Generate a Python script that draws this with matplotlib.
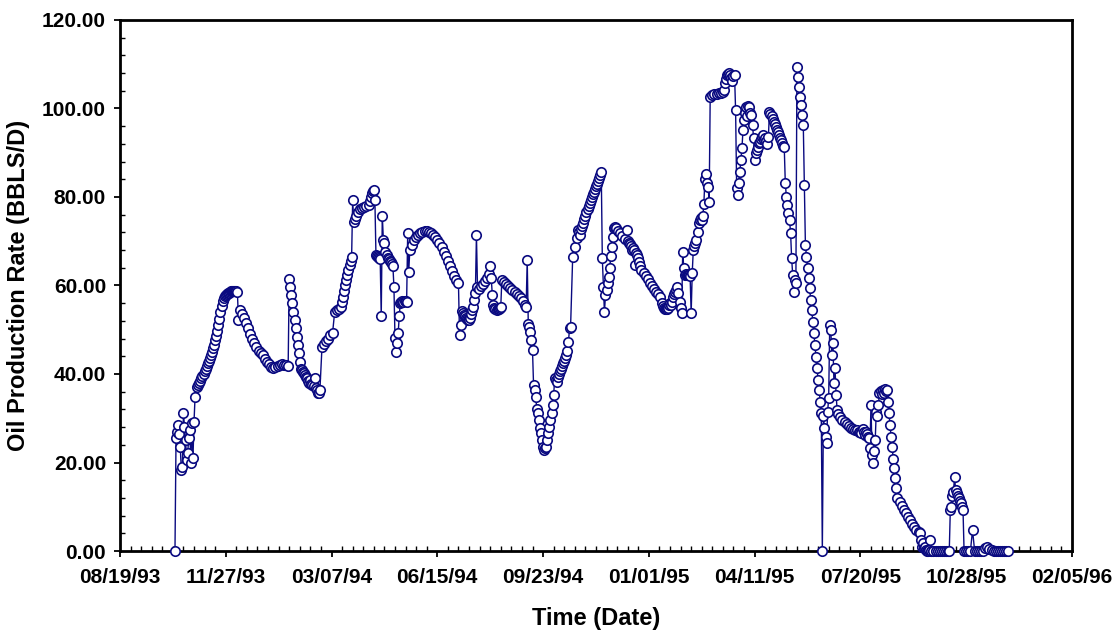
import numpy as np
import pandas as pd
import matplotlib
matplotlib.use('Agg')
import matplotlib.pyplot as plt
import matplotlib.dates as mdates
from matplotlib.ticker import MultipleLocator, FormatStrFormatter, FixedLocator

# day 0 of the time axis
start_date = pd.Timestamp('1993-08-19')

# oil rate readings (BBLS/D), in blocks: (first day after 08/19/93, spacing in days, values)
oct93 = [0.0, 25.5, 27.0, 28.5, 26.5, 23.5, 18.3, 19.0, 31.2, 28.0, 25.0, 20.6, 22.1,
         25.5, 27.3, 20.0, 28.9, 21.0, 29.2, 34.9]
nov93 = [37.1, 37.5, 38.0, 38.5, 39.0, 39.5, 40.1, 40.6, 41.2, 41.8, 42.4, 43.0, 43.6,
         44.3, 45.0, 45.8, 46.6, 47.6, 48.6, 49.8, 51.0, 52.5, 54.0, 55.4, 56.6, 57.2,
         57.6, 57.9, 58.1, 58.3, 58.4, 58.6, 58.7, 58.8, 58.8, 58.8, 58.8, 58.7, 58.6]
dec93a = [52.2, 54.5]
dec93b = [53.6, 52.6, 51.5, 50.3, 49.0, 48.0, 47.0, 46.1, 45.3, 44.8, 44.3, 43.3, 42.7,
          42.2, 41.6, 41.3, 41.5, 41.8, 42.0, 42.2, 42.1, 42.0, 41.8]
jan94 = [61.4, 59.7, 57.9, 56.0, 54.1, 52.2, 50.3, 48.4, 46.6, 44.7, 42.8, 41.2, 40.9,
         40.5, 40.2, 39.8, 39.4, 39.0, 38.5, 38.0, 38.6, 37.8, 37.5, 37.2, 39.0, 36.8,
         36.4, 35.8, 35.6, 36.3]
feb94 = [46.2, 46.8, 47.4, 48.0, 48.7, 49.3, 54.1, 54.4, 54.8, 55.2]
mar94 = [56.3, 57.5, 58.8, 60.0, 61.2, 62.4, 63.5, 64.6, 65.6, 66.5, 79.3, 74.4, 75.0, 75.6]
apr94a = [76.7, 77.3, 77.6, 77.8, 78.0, 78.2]
apr94b = [79.0, 80.0, 80.8, 81.4, 81.5, 79.3, 66.9, 66.7, 66.5, 66.2, 66.0, 53.0, 75.8,
          70.3, 69.6, 67.5, 66.8, 66.3, 66.0, 65.6, 65.2, 64.8, 64.5, 59.7, 48.1, 45.0,
          46.9, 49.2, 53.0, 56.0, 56.3, 56.5, 56.3, 56.6, 56.4, 56.3, 71.8, 63.1, 68.0]
jun94 = [69.2, 70.2, 70.9, 71.5, 71.9, 72.2, 72.4, 72.4, 72.2, 71.9, 71.5, 71.0, 70.3,
         69.5, 68.6, 67.6, 66.6, 65.5, 64.4, 63.3, 62.2, 61.2, 60.5]
jul94 = [48.8, 51.1, 54.2, 53.8, 53.4, 53.0, 52.6, 52.4, 52.2, 52.3, 52.6, 53.5, 54.5,
         55.2, 56.7, 58.2, 71.4, 59.7, 59.3]
aug94a = [59.8, 60.4, 61.0, 61.7, 62.5]
aug94b = [64.3, 61.6, 57.9, 55.6, 55.0, 54.6, 54.5, 54.6, 54.8, 55.0, 55.2]
aug94c = [61.2, 60.8, 60.3, 59.9, 59.5, 59.0, 58.5, 58.1, 57.7, 57.2, 56.5, 55.6]
sep94 = [55.2, 65.8, 51.4, 50.7, 49.6, 47.7, 45.4, 37.5, 36.4, 34.9, 32.2, 31.1, 29.6,
         27.7, 26.6, 25.0, 23.6, 22.8, 23.3, 23.6, 25.1, 26.6, 28.1, 29.6, 31.1, 33.0,
         35.3, 39.0, 38.6, 38.2, 39.4, 40.0, 40.6, 41.2, 41.8, 42.4, 43.0, 43.6, 44.2,
         45.3, 47.3, 50.3, 50.7]
oct94a = [66.5, 68.8, 70.7]
oct94b = [72.5, 72.0, 71.4, 72.8, 73.5, 74.2, 75.0, 75.8, 76.6, 77.3, 78.0, 78.7, 79.3,
          80.0, 80.6, 81.2, 81.8, 82.4, 83.0, 83.7, 84.3, 85.0, 85.7]
nov94 = [66.1, 59.7, 53.9, 57.9, 59.0, 60.5, 62.0, 63.9, 66.7, 68.8, 71.0, 72.9, 73.2]
dec94a = [72.9, 72.4, 71.8, 71.2, 70.6]
dec94b = [72.5, 70.0, 69.5, 69.3, 69.0, 68.0, 68.5, 68.0, 64.6, 67.3, 66.8, 66.2, 65.4,
          64.3, 63.5]
jan95 = [62.8, 62.1, 61.4, 60.6, 59.9, 59.2, 58.6, 58.0, 57.5]
feb95 = [56.0, 55.4, 55.0, 54.8, 54.6, 54.7, 55.0, 55.5, 56.0, 55.6, 56.3, 57.5, 58.0,
         58.5, 59.0, 59.7, 58.4, 56.3, 55.0, 53.7, 67.6, 64.0, 62.4, 62.5, 62.4, 62.3,
         62.4, 62.2, 53.7, 62.8, 68.0, 69.0, 69.7, 70.3, 72.0, 74.1, 74.8, 75.3, 74.9,
         75.6, 78.5, 84.0, 85.3, 83.2, 82.3, 78.9, 102.7]
mar95 = [103.0, 103.2, 103.3, 103.4, 103.5, 103.7]
apr95 = [104.2, 105.7, 106.6, 107.6, 107.9, 108.0, 107.6, 106.8, 106.1, 107.3, 107.6,
         99.7, 82.0, 80.5, 83.1, 85.7, 88.4, 91.0, 95.1, 97.4, 99.0, 100.4, 98.3, 100.5,
         100.4, 99.0, 98.5, 96.3, 93.3, 88.4, 89.9, 90.6, 91.4, 92.1, 92.5, 93.0, 93.6,
         94.0, 92.9, 93.3, 92.6, 92.0, 93.5, 99.3, 98.8, 98.2, 97.6, 97.0, 96.4, 95.8,
         95.2, 94.6, 94.0, 93.4, 92.8, 92.2, 91.6, 91.2, 83.1, 80.1, 78.2, 76.3, 74.8,
         71.8, 66.1, 62.4, 58.6, 61.2, 60.5, 109.4, 107.2, 104.9, 102.7, 100.8, 98.5,
         96.3, 82.7, 69.2, 66.5, 63.9, 61.6, 59.4, 56.7, 54.5, 51.8, 49.2, 46.6, 43.9,
         41.3, 38.6, 36.4, 33.7, 31.1, 0.0, 30.4, 27.7, 25.8, 24.3, 31.5, 34.5, 51.1,
         50.0, 44.3, 46.9, 37.9, 41.3, 35.3, 31.9]
jul95 = [30.9, 30.3, 29.7, 29.1, 28.6, 28.2, 27.9, 27.6, 27.4, 27.3, 27.0]
aug95 = [26.8, 26.6, 27.5, 26.9, 26.3, 27.0, 26.4, 25.8, 25.6, 23.2, 33.0, 21.7, 19.8,
         22.5, 25.1, 31.5, 30.5, 33.0, 35.6, 36.2, 35.5, 36.4, 35.8, 36.6, 36.2, 36.4,
         33.7, 31.1, 28.5, 25.8, 23.6, 20.9, 18.7, 16.4, 14.2, 11.9]
sep95a = [11.0, 10.2, 9.3, 8.5, 7.7, 6.9, 6.1, 5.4, 4.8, 4.2]
sep95b = [4.0, 2.6, 1.0, 1.7, 0.6, 1.0, 0.3, 0.0, 0.0, 0.2, 2.5, 0.0]
oct95a = [0.0, 0.0, 0.0, 0.0, 0.0, 0.0, 0.0, 0.0]
oct95b = [0.0, 9.3, 10.0, 12.5, 13.4, 16.8, 13.8, 13.0, 12.4, 11.9, 11.3, 10.8, 10.0,
          9.3, 0.0]
nov95 = [0.0, 0.0, 0.0, 4.7, 0.0, 0.0, 0.0, 0.0, 0.0, 0.6, 0.8, 0.5, 0.2, 0.0, 0.0,
         0.0, 0.0, 0.0, 0.0, 0.0, 0.0]

blocks = [(52, 1, oct93), (73, 1, nov93), (112, 1, dec93a), (115, 2, dec93b),
          (160, 1, jan94), (191, 2, feb94), (210, 1, mar94), (225, 2, apr94a),
          (236, 1, apr94b), (276, 2, jun94), (321, 1, jul94), (341, 2, aug94a),
          (350, 1, aug94b), (361, 2, aug94c), (384, 1, sep94), (428, 2, oct94a),
          (433, 1, oct94b), (456, 1, nov94), (469, 2, dec94a), (479, 1, dec94b),
          (495, 2, jan95), (512, 1, feb95), (560, 2, mar95), (571, 1, apr95),
          (679, 2, jul95), (700, 1, aug95), (737, 2, sep95a), (756, 1, sep95b),
          (769, 2, oct95a), (784, 1, oct95b), (800, 2, nov95)]

days, rate = [], []
for first, step, vals in blocks:
    days += [first + step * i for i in range(len(vals))]
    rate += vals
dates = start_date + pd.to_timedelta(days, unit='D')

plt.rcParams['font.family'] = ['Liberation Sans', 'DejaVu Sans']
plt.rcParams['font.weight'] = 'bold'

fig = plt.figure(figsize=(11.15, 6.34), dpi=100)
ax = fig.add_axes([0.1076, 0.1309, 0.8538, 0.8376])

navy = '#0a0a80'
ax.plot(dates, rate, '-o', color=navy, lw=1.0, ms=6.8, mfc='white', mec=navy,
        mew=1.2, clip_on=False, zorder=3)

x0 = mdates.date2num(start_date)
ax.set_xlim(x0, x0 + 900)
ax.set_ylim(0, 120)
ax.xaxis.set_major_locator(FixedLocator([x0 + 100 * k for k in range(10)]))
ax.xaxis.set_minor_locator(FixedLocator([x0 + 10 * k for k in range(91)]))
ax.xaxis.set_major_formatter(mdates.DateFormatter('%m/%d/%y'))
ax.yaxis.set_major_locator(MultipleLocator(20))
ax.yaxis.set_minor_locator(MultipleLocator(4))
ax.yaxis.set_major_formatter(FormatStrFormatter('%.2f'))

for s in ax.spines.values():
    s.set_linewidth(2.0)
ax.tick_params(which='major', direction='out', length=4, width=1.3, labelsize=15)
ax.tick_params(which='minor', direction='in', length=3.5, width=1.0)
ax.tick_params(axis='x', which='major', pad=8)
ax.tick_params(axis='y', which='major', pad=6)

ax.set_xlabel('Time (Date)', fontsize=17, fontweight='bold')
ax.set_ylabel('Oil Production Rate (BBLS/D)', fontsize=17, fontweight='bold')
ax.xaxis.set_label_coords(0.5, -0.105)
ax.yaxis.set_label_coords(-0.094, 0.5)

fig.savefig('out.png', dpi=100)
